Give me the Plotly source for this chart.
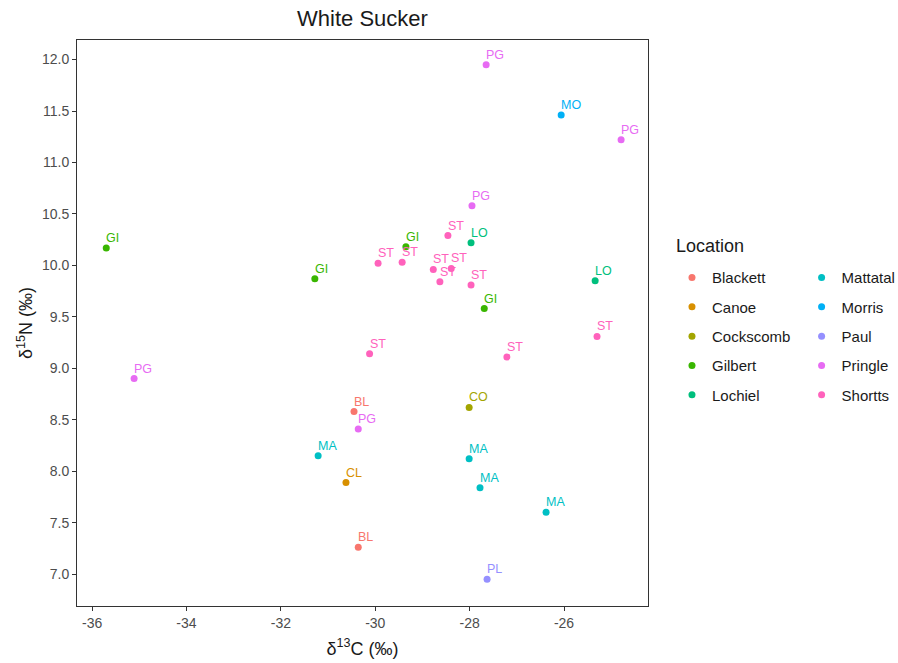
import plotly.graph_objects as go

# Stable isotope values for White Sucker, grouped by sampling location
locations = ["Blackett", "Canoe", "Cockscomb", "Gilbert", "Lochiel",
             "Mattatal", "Morris", "Paul", "Pringle", "Shortts"]
codes = ["BL", "CL", "CO", "GI", "LO", "MA", "MO", "PL", "PG", "ST"]
colors = ["#F8766D", "#D89000", "#A3A500", "#39B600", "#00BF7D",
          "#00BFC4", "#00B0F6", "#9590FF", "#E76BF3", "#FF62BC"]

d13C = {
    "Blackett": [-30.45, -30.36],
    "Canoe": [-30.62],
    "Cockscomb": [-28.01],
    "Gilbert": [-35.70, -31.28, -29.35, -27.69],
    "Lochiel": [-27.97, -25.34],
    "Mattatal": [-31.21, -28.01, -27.78, -26.38],
    "Morris": [-26.06],
    "Paul": [-27.63],
    "Pringle": [-27.65, -24.79, -27.95, -35.11, -30.36],
    "Shortts": [-29.94, -29.43, -28.46, -28.77, -28.39, -28.63, -27.97,
                -25.30, -27.21, -30.12],
}
d15N = {
    "Blackett": [8.58, 7.26],
    "Canoe": [7.89],
    "Cockscomb": [8.62],
    "Gilbert": [10.17, 9.87, 10.18, 9.58],
    "Lochiel": [10.22, 9.85],
    "Mattatal": [8.15, 8.12, 7.84, 7.60],
    "Morris": [11.46],
    "Paul": [6.95],
    "Pringle": [11.95, 11.22, 10.58, 8.90, 8.41],
    "Shortts": [10.02, 10.03, 10.29, 9.96, 9.97, 9.84, 9.81, 9.31, 9.11, 9.14],
}

x_ticks = [-36, -34, -32, -30, -28, -26]
y_ticks = [7.0, 7.5, 8.0, 8.5, 9.0, 9.5, 10.0, 10.5, 11.0, 11.5, 12.0]

FONT = "Liberation Sans, Arial"
W, H = 898, 663
L, R, T, B = 77, 250, 40, 57
PW, PH = W - L - R, H - T - B

fig = go.Figure()
labels = []
for i, (loc, code, col) in enumerate(zip(locations, codes, colors)):
    xs, ys = d13C[loc], d15N[loc]
    fig.add_trace(go.Scatter(
        x=xs, y=ys, mode="markers", name=loc,
        marker=dict(color=col, size=7),
        legend="legend" if i < 5 else "legend2",
        legendgroup=loc,
        cliponaxis=False,
    ))
    # site code written just above and to the right of each point
    for xv, yv in zip(xs, ys):
        labels.append(dict(
            x=xv, y=yv, xref="x", yref="y", text=code, showarrow=False,
            xanchor="left", yanchor="bottom", xshift=-2, yshift=1,
            font=dict(size=12.5, color=col, family=FONT),
        ))

# legend title shared by both legend columns
labels.append(dict(
    x=(674 - L) / PW, y=(H - B - 246) / PH, xref="paper", yref="paper",
    text="Location", showarrow=False, xanchor="left", yanchor="middle",
    font=dict(size=18, color="#1A1A1A", family=FONT),
))

legend_style = dict(
    font=dict(size=15, color="#1A1A1A", family=FONT),
    tracegroupgap=6.8, itemsizing="trace", bgcolor="rgba(0,0,0,0)",
    xanchor="left", yanchor="top",
)

fig.update_layout(
    width=W, height=H,
    margin=dict(l=L, r=R, t=T, b=B, autoexpand=False),
    paper_bgcolor="white", plot_bgcolor="white",
    font=dict(family=FONT, color="#4D4D4D"),
    title=dict(text="White Sucker", x=(L + L + PW) / 2 / W, xanchor="center",
               y=0.973, yanchor="middle",
               font=dict(size=22, color="#1A1A1A")),
    legend=dict(x=1.042, y=0.609, **legend_style),
    legend2=dict(x=1.269, y=0.609, **legend_style),
    annotations=labels,
    xaxis=dict(
        range=[-36.32, -24.22], tickvals=x_ticks,
        ticktext=[str(v) for v in x_ticks],
        showgrid=False, zeroline=False,
        showline=True, mirror=True, linecolor="#333333", linewidth=1,
        ticks="outside", ticklen=4, tickcolor="#333333",
        tickfont=dict(size=14, color="#4D4D4D"),
        title=dict(text="δ<sup>13</sup>C (‰)", standoff=12,
                   font=dict(size=18, color="#1A1A1A")),
    ),
    yaxis=dict(
        range=[6.69, 12.19], tickvals=y_ticks,
        ticktext=[f"{v:.1f}" for v in y_ticks],
        showgrid=False, zeroline=False,
        showline=True, mirror=True, linecolor="#333333", linewidth=1,
        ticks="outside", ticklen=4, tickcolor="#333333",
        tickfont=dict(size=14, color="#4D4D4D"),
        title=dict(text="δ<sup>15</sup>N (‰)", standoff=4,
                   font=dict(size=18, color="#1A1A1A")),
    ),
)

fig.write_html("out.html")
